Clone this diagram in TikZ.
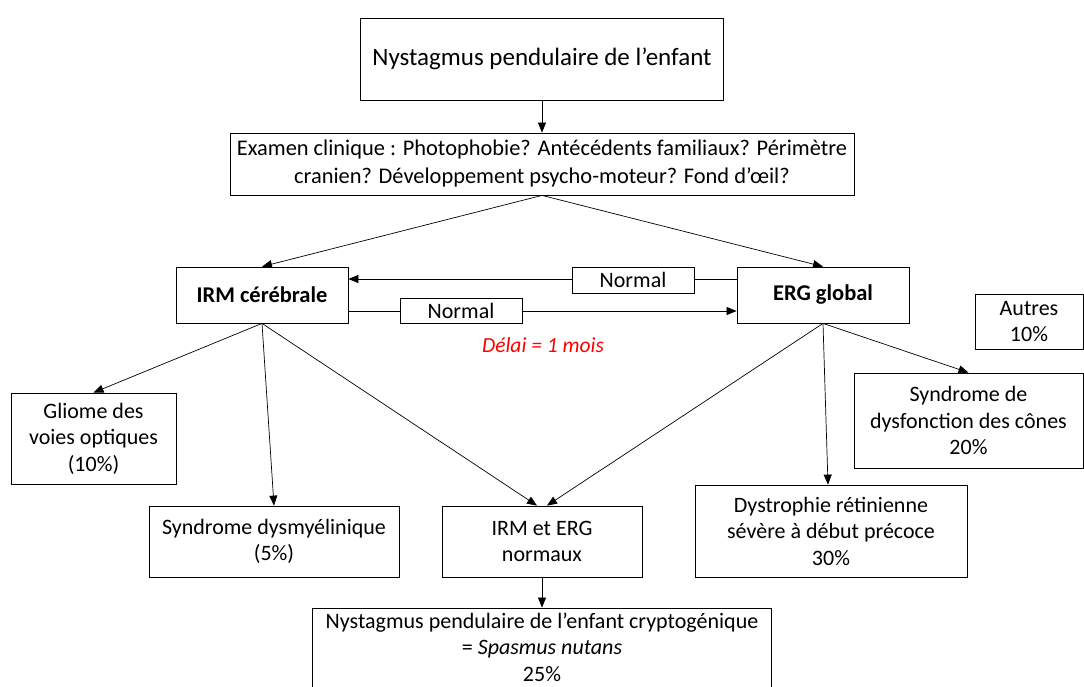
\documentclass[tikz,border=0pt]{standalone}
\usepackage{fontspec}
\setmainfont{Carlito}
\usetikzlibrary{arrows.meta}
\begin{document}
\begin{tikzpicture}[x=1pt,y=-1pt,
 box/.style={draw, line width=0.8pt, inner sep=0pt, align=center, font=\fontsize{22}{26.5}\selectfont},
 txt/.style={inner sep=0pt, align=center, font=\fontsize{22}{26.5}\selectfont},
 conn/.style={line width=0.7pt, -{Triangle[length=10pt,width=8pt]}}]
\useasboundingbox (0,0) rectangle (1084,686);
\fill[white] (0,0) rectangle (1084,686);

\node[box, minimum width=363, minimum height=82, font=\fontsize{25}{30}\selectfont] (top) at (542,59) {Nystagmus pendulaire de l’enfant};
\node[box, minimum width=624, minimum height=62, font=\fontsize{22.4}{28}\selectfont] (exam) at (542,164) {Examen clinique : Photophobie? Antécédents familiaux? Périmètre\\cranien? Développement psycho-moteur? Fond d’œil?};
\node[box, minimum width=172, minimum height=56, font=\fontsize{22.5}{26}\bfseries] (irm) at (262,295) {IRM cérébrale};
\node[box, minimum width=172, minimum height=56, font=\fontsize{22.5}{26}\bfseries] (erg) at (823,295) {ERG global};
\node[box, minimum width=108, minimum height=55] (autres) at (1029,321.5) {Autres\\10\%};
\node[box, minimum width=165, minimum height=91] (gliome) at (93.5,438.5) {Gliome des\\voies optiques\\(10\%)};
\node[box, minimum width=250, minimum height=71] (dysm) at (274,541.5) {Syndrome dysmyélinique\\(5\%)};
\node[box, minimum width=200, minimum height=71] (normaux) at (542,541.5) {IRM et ERG\\normaux};
\node[box, minimum width=272, minimum height=92] (dystro) at (831,531) {Dystrophie rétinienne\\sévère à début précoce\\30\%};
\node[box, minimum width=229, minimum height=95] (cones) at (968.5,420.5) {Syndrome de\\dysfonction des cônes\\20\%};
\node[box, minimum width=459, minimum height=120] (bottom) at (542,668) {};
\node[txt] (bottomtext) at (542,647) {Nystagmus pendulaire de l’enfant cryptogénique\\= \textit{Spasmus nutans}\\25\%};

\node[txt, text=red, font=\fontsize{21.5}{26}\itshape] (delai) at (543,345) {Délai = 1 mois};

\draw[conn] (top.south) -- (exam.north);
\draw[conn] (exam.south) -- (irm.north);
\draw[conn] (exam.south) -- (erg.north);

\draw[conn] ([yshift=16]erg.west) -- ([yshift=16]irm.east);
\draw[conn] ([yshift=-16]irm.east) -- ([yshift=-16]erg.west);
\node[box, fill=white, minimum width=122, minimum height=26] (n1) at (633,280) {Normal};
\node[box, fill=white, minimum width=122, minimum height=25] (n2) at (461,310.5) {Normal};

\draw[conn] (irm.south) -- (gliome.north);
\draw[conn] (irm.south) -- (dysm.north);
\draw[conn] (irm.south) -- ([xshift=-5]normaux.north);
\draw[conn] (erg.south) -- ([xshift=5]normaux.north);
\draw[conn] (erg.south) -- ([xshift=-3]dystro.north);
\draw[conn] (erg.south) -- (cones.north);
\draw[conn] (normaux.south) -- (bottom.north);
\end{tikzpicture}
\end{document}
